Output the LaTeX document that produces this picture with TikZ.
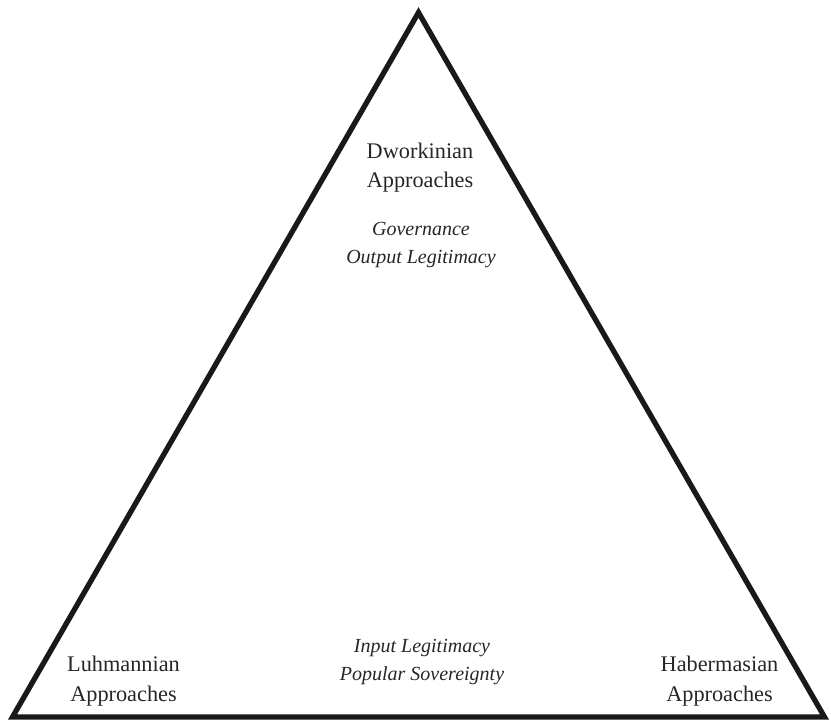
\documentclass[tikz,border=0pt]{standalone}
\usepackage{fontspec}
\setmainfont{Liberation Serif}
\begin{document}
\begin{tikzpicture}[x=1pt,y=-1pt,
  lbl/.style={align=center,font=\fontsize{22.3}{29.5}\selectfont,text=black!85,inner sep=0pt},
  ital/.style={align=center,font=\fontsize{20}{28}\selectfont\itshape,text=black!85,inner sep=0pt},
  tri/.style={line width=5.3pt,line join=miter,draw=black!90}]
\useasboundingbox (0,0) rectangle (831,721);
\coordinate (A) at (418.5,12.5);
\coordinate (B) at (12.5,717);
\coordinate (C) at (824.5,717);
\draw[tri] (A) -- (B) -- (C) -- cycle;
\node[lbl] (dw) at (420,167.5) {Dworkinian\\Approaches};
\node[ital] (gov) at (421,245) {Governance\\Output Legitimacy};
\node[ital] (inp) at (422,662.5) {Input Legitimacy\\Popular Sovereignty};
\node[lbl] (lu) at (123.5,681) {Luhmannian\\Approaches};
\node[lbl] (hb) at (719.5,681) {Habermasian\\Approaches};
\end{tikzpicture}
\end{document}
